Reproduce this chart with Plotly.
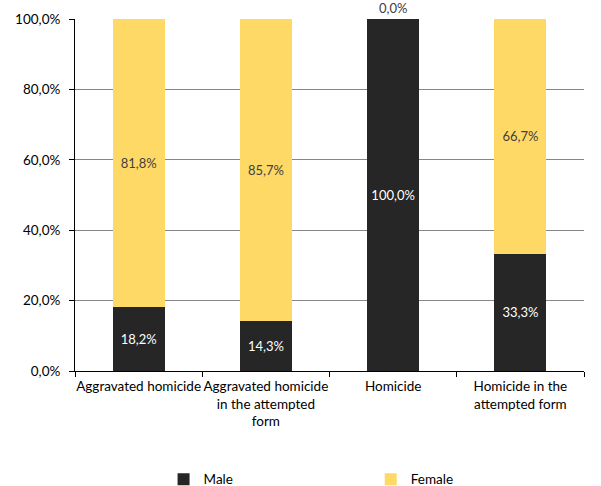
import plotly.graph_objects as go

categories = ["Aggravated homicide", "Aggravated homicide<br>in the attempted<br>form", "Homicide", "Homicide in the<br>attempted form"]
male = [18.2, 14.3, 100.0, 33.3]
female = [81.8, 85.7, 0.0, 66.7]
y_ticks = [0, 20, 40, 60, 80, 100]
y_tick_labels = ["0,0%", "20,0%", "40,0%", "60,0%", "80,0%", "100,0%"]

font = "Lato"
fs = 13.5
bfs = 13
fig = go.Figure()
fig.add_trace(go.Bar(
    name="Male", x=categories, y=male, marker=dict(color="#262626", line=dict(width=0)),
    texttemplate="%{y:.1f}%", textposition="inside", insidetextanchor="middle", textangle=0,
    textfont=dict(color="white", size=bfs, family=font), cliponaxis=False,
    legend="legend", hoverinfo="skip",
))
fig.add_trace(go.Bar(
    name="Female", x=categories, y=female, marker=dict(color="#FFD966", line=dict(width=0)),
    texttemplate="%{y:.1f}%",
    textposition=["inside" if v > 0 else "outside" for v in female],
    insidetextanchor="middle", textangle=0,
    textfont=dict(color="#404040", size=bfs, family=font), cliponaxis=False,
    legend="legend2", hoverinfo="skip",
))
leg_common = dict(orientation="h", xanchor="left", y=-0.264, yanchor="top",
                  itemclick=False, font=dict(size=fs, family=font, color="#000000"),
                  bgcolor="rgba(0,0,0,0)")
fig.update_layout(
    barmode="stack", bargap=0.59,
    width=601, height=486,
    margin=dict(l=75, r=17, t=19, b=115, autoexpand=False),
    paper_bgcolor="white", plot_bgcolor="white",
    separators=",.",
    hovermode=False,
    font=dict(family=font, size=fs, color="#000000"),
    legend=dict(x=0.174, **leg_common),
    legend2=dict(x=0.581, **leg_common),
    showlegend=True,
)
fig.update_yaxes(range=[0, 100], tickvals=y_ticks, ticktext=y_tick_labels,
                 showgrid=True, gridcolor="#868686", gridwidth=1,
                 showline=True, linecolor="#000000", linewidth=1,
                 ticks="outside", ticklen=5, tickcolor="#000000", zeroline=False,
                 ticklabelstandoff=6, automargin=False, fixedrange=True,
                 tickfont=dict(size=fs, family=font, color="#000000"))
fig.update_xaxes(showline=True, linecolor="#000000", linewidth=1,
                 ticks="outside", ticklen=5, tickcolor="#000000", tickson="boundaries",
                 tickangle=0, automargin=False, ticklabelstandoff=3, fixedrange=True,
                 tickfont=dict(size=fs, family=font, color="#000000"))
fig.write_html("out.html", config={"displayModeBar": False, "staticPlot": True},
               post_script="document.body.style.margin='0';")
